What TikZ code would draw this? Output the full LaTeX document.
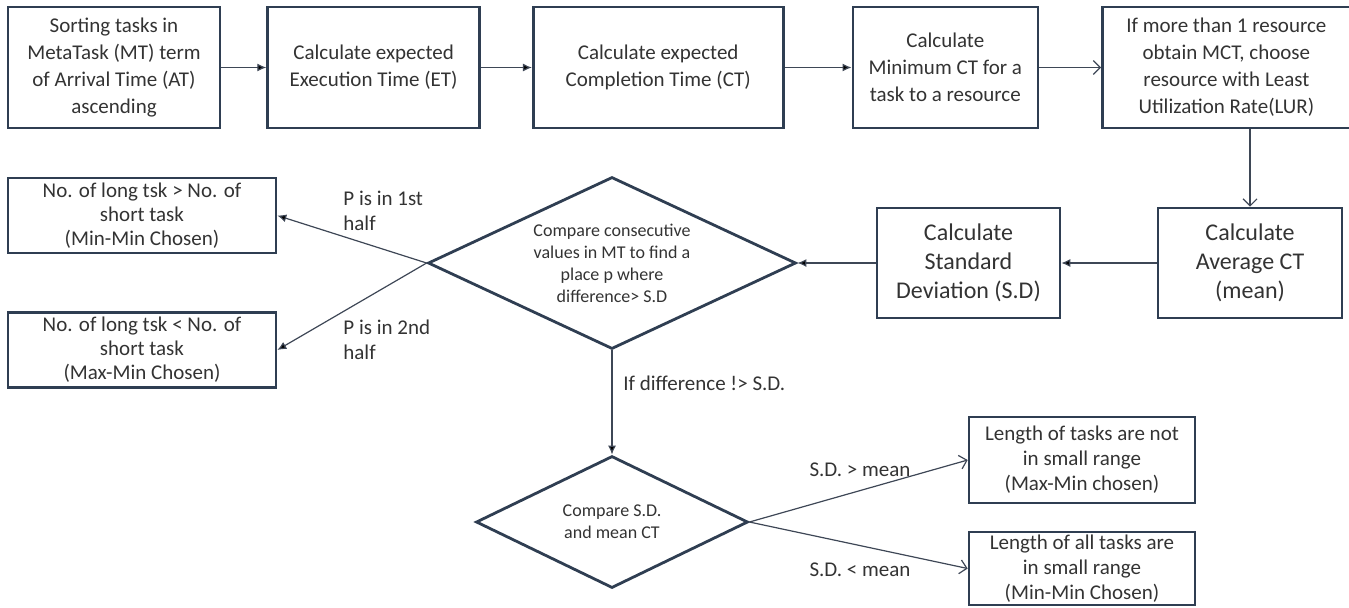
\documentclass[tikz,border=0pt]{standalone}
\usepackage{fontspec}
\setmainfont{Carlito}
\usetikzlibrary{positioning,shapes.geometric,arrows.meta}

\definecolor{boxblue}{HTML}{2F3E52}
\definecolor{linegray}{HTML}{3E4756}
\definecolor{txtgray}{HTML}{333333}

\tikzset{
  box/.style={draw=boxblue, line width=1.3pt, align=center, text=txtgray,
    inner sep=2pt, font=\fontsize{10.5}{13.5}\selectfont},
  bigbox/.style={box, font=\fontsize{12}{14.5}\selectfont},
  sidebox/.style={box, inner sep=1.5pt, font=\fontsize{10.5}{12}\selectfont},
  endbox/.style={box, inner sep=0.5pt, font=\fontsize{10.5}{12.5}\selectfont},
  decision/.style={diamond, draw=boxblue, line width=1.4pt, inner sep=0pt,
    align=center, text=txtgray, font=\fontsize{9}{11}\selectfont},
  lbl/.style={align=left, text=txtgray, inner sep=0pt, font=\fontsize{10.5}{12.5}\selectfont},
  conn/.style={draw=linegray, line width=0.6pt},
  arr/.style={-{Latex[length=4.5pt,width=4pt]}},
  oarr/.style={-{Straight Barb[length=3.5pt,width=7pt]}}
}

\begin{document}
\begin{tikzpicture}[x=0.5pt, y=-0.5pt, auto]
  \useasboundingbox (0,0) rectangle (1349,607);

  % top row
  \node[box, minimum width=106pt, minimum height=60.5pt] (sort) at (114,67.5)
    {Sorting tasks in\\MetaTask (MT) term\\of Arrival Time (AT)\\ascending};
  \node[box, minimum width=106pt, minimum height=60.5pt] (exec) [right=22.5pt of sort]
    {Calculate expected\\Execution Time (ET)};
  \node[box, minimum width=125pt, minimum height=60.5pt] (compl) [right=25.5pt of exec]
    {Calculate expected\\Completion Time (CT)};
  \node[box, minimum width=92.5pt, minimum height=60.5pt] (minct) [right=33.5pt of compl]
    {Calculate\\Minimum CT for a\\task to a resource};
  \node[box, minimum width=124pt, minimum height=60.5pt] (lur) [right=31pt of minct]
    {If more than 1 resource\\obtain MCT, choose\\resource with Least\\Utilization Rate(LUR)};

  % middle row
  \node[bigbox, minimum width=92pt, minimum height=55pt] (avg) at (1250,263)
    {Calculate\\Average CT\\(mean)};
  \node[bigbox, minimum width=91.5pt, minimum height=55pt] (sd) at (968.5,263)
    {Calculate\\Standard\\Deviation (S.D)};
  \node[decision, minimum width=184pt, minimum height=86pt, aspect=2.14] (gap) at (612,263)
    {Compare consecutive\\values in MT to find a\\place p where\\difference> S.D};
  \node[sidebox, minimum width=134pt, minimum height=37.5pt] (minmin) at (142,215.5)
    {No. of long tsk > No. of\\short task\\(Min-Min Chosen)};
  \node[sidebox, minimum width=134pt, minimum height=37.5pt] (maxmin) at (142,350)
    {No. of long tsk < No. of\\short task\\(Max-Min Chosen)};

  % bottom row
  \node[decision, minimum width=136pt, minimum height=66pt, aspect=2.06] (cmp) at (612,522)
    {Compare S.D.\\and mean CT};
  \node[endbox, minimum width=113pt, minimum height=43pt] (notsmall) at (1082,460)
    {Length of tasks are not\\in small range\\(Max-Min chosen)};
  \node[endbox, minimum width=113pt, minimum height=36.5pt] (small) at (1082,568.5)
    {Length of all tasks are\\in small range\\(Min-Min Chosen)};

  % labels
  \node[lbl, anchor=west] (first) at (343,210.5) {P is in 1st\\half};
  \node[lbl, anchor=west] (second) at (343,339.5) {P is in 2nd\\half};
  \node[lbl, anchor=west] (nodiff) at (623,383) {If difference !> S.D.};
  \node[lbl] (gt) at (860,470) {S.D. > mean};
  \node[lbl] (lt) at (860,570) {S.D. < mean};

  \path[conn]
    (sort) edge[arr] (exec)
    (exec) edge[arr] (compl)
    (compl) edge[arr] (minct)
    (minct) edge[oarr] (lur)
    (lur.south -| avg.north) edge[oarr] (avg.north)
    (avg) edge[arr] (sd)
    (sd) edge[arr] (gap)
    (gap.west) edge[arr] (minmin.east)
    (gap.west) edge[arr] (maxmin.east)
    (gap.south) edge[arr] (cmp.north)
    (cmp.east) edge[oarr] (notsmall.west)
    (cmp.east) edge[oarr] (small.west);
\end{tikzpicture}
\end{document}
